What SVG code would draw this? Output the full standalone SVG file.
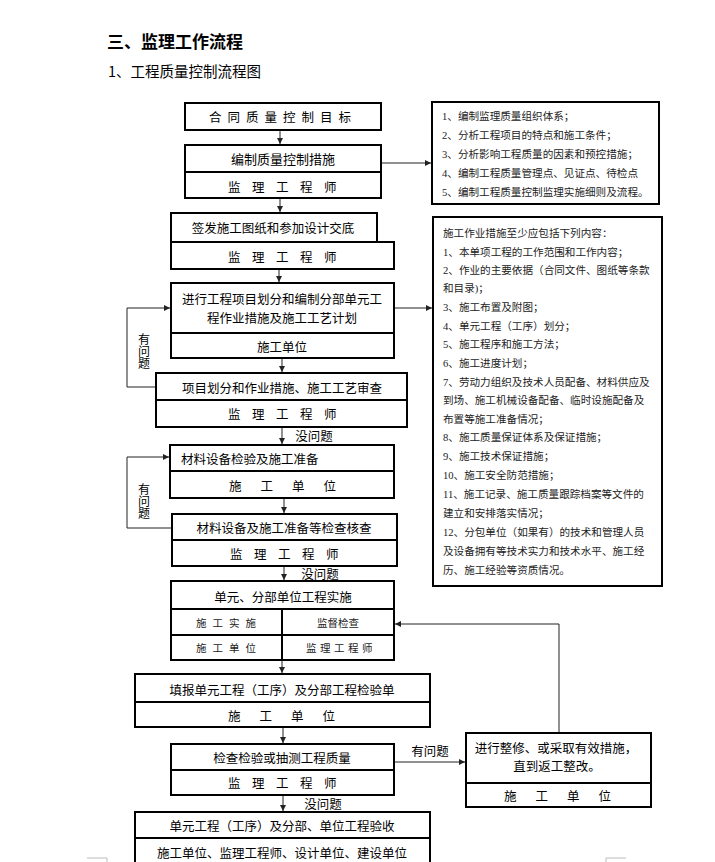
<svg xmlns="http://www.w3.org/2000/svg" width="715" height="862" viewBox="0 0 715 862">
<style>
.bg{fill:#fff}
.box{fill:#fff;stroke:#000;stroke-width:2}
.div{stroke:#000;stroke-width:2;fill:none}
.con{stroke:#222;stroke-width:1;fill:none}
.t{font-family:"Noto Sans CJK SC","Liberation Sans",sans-serif;font-size:12.5px;fill:#000;text-anchor:middle;dominant-baseline:central}
.tv{font-family:"Noto Sans CJK SC","Liberation Sans",sans-serif;font-size:12px;fill:#000;writing-mode:vertical-rl;text-anchor:start;dominant-baseline:central}
.ts{font-family:"Liberation Serif","Noto Sans CJK SC",serif;font-size:10.5px;fill:#222;text-anchor:middle;dominant-baseline:central}
.tl{font-family:"Liberation Serif","Noto Sans CJK SC",serif;font-size:10.6px;fill:#222;dominant-baseline:central}
.h1{font-family:"Noto Sans CJK SC","Liberation Sans",sans-serif;font-size:17px;font-weight:bold;fill:#000}
.h2{font-family:"Noto Sans CJK SC","Liberation Sans",sans-serif;font-size:14.5px;fill:#000}
.mark{stroke:#bbb;stroke-width:1;fill:none}
</style>
<defs>
<marker id="ah" markerWidth="7" markerHeight="6" refX="6" refY="3" orient="auto" markerUnits="userSpaceOnUse">
<path d="M0,0 L6,3 L0,6 z" fill="#222"/>
</marker>
</defs>
<rect class="bg" x="0" y="0" width="715" height="862"/>
<text class="h1" x="107" y="48">三、监理工作流程</text>
<text class="h2" x="108" y="77">1、工程质量控制流程图</text>

<g id="connectors">
<line class="con" x1="280" y1="131" x2="280" y2="144" marker-end="url(#ah)"/>
<line class="con" x1="280" y1="199" x2="280" y2="212" marker-end="url(#ah)"/>
<line class="con" x1="382" y1="163" x2="431" y2="163" marker-end="url(#ah)"/>
<line class="con" x1="279" y1="270" x2="279" y2="282" marker-end="url(#ah)"/>
<line class="con" x1="395" y1="308" x2="432" y2="308" marker-end="url(#ah)"/>
<line class="con" x1="282" y1="359" x2="282" y2="372" marker-end="url(#ah)"/>
<polyline class="con" points="155,387 127,387 127,308 170,308" marker-end="url(#ah)"/>
<line class="con" x1="282" y1="428" x2="282" y2="444" marker-end="url(#ah)"/>
<line class="con" x1="284" y1="499" x2="284" y2="513" marker-end="url(#ah)"/>
<polyline class="con" points="171,528 127,528 127,457 169,457" marker-end="url(#ah)"/>
<line class="con" x1="284" y1="567" x2="284" y2="580" marker-end="url(#ah)"/>
<polyline class="con" points="559,732 559,624 395,624" marker-end="url(#ah)"/>
<line class="con" x1="282" y1="661" x2="282" y2="673" marker-end="url(#ah)"/>
<line class="con" x1="283" y1="728" x2="283" y2="743" marker-end="url(#ah)"/>
<line class="con" x1="395" y1="762" x2="465" y2="762" marker-end="url(#ah)"/>
<line class="con" x1="283" y1="796" x2="283" y2="811" marker-end="url(#ah)"/>
<text class="t" x="314" y="435">没问题</text>
<text class="t" x="320" y="573">没问题</text>
<text class="t" x="323" y="803">没问题</text>
<text class="t" x="430" y="750">有问题</text>
<text class="tv" x="144" y="333">有问题</text>
<text class="tv" x="144" y="483">有问题</text>
</g>

<g id="n1">
<rect class="box" x="185" y="103" width="196" height="27"/>
<text class="t" x="283" y="116" style="letter-spacing:6px">合同质量控制目标</text>
</g>
<g id="n2">
<rect class="box" x="185" y="145" width="196" height="53"/>
<line class="div" x1="185" y1="172" x2="381" y2="172"/>
<text class="t" x="283" y="158" style="font-size:13px">编制质量控制措施</text>
<text class="t" x="288" y="186" style="letter-spacing:11.5px">监理工程师</text>
</g>
<g id="r1">
<rect class="box" x="432" y="102" width="227" height="102"/>
<text class="tl" x="442" y="116">1、编制监理质量组织体系；</text>
<text class="tl" x="442" y="135">2、分析工程项目的特点和施工条件；</text>
<text class="tl" x="442" y="154">3、分析影响工程质量的因素和预控措施；</text>
<text class="tl" x="442" y="173">4、编制工程质量管理点、见证点、待检点</text>
<text class="tl" x="442" y="192">5、编制工程质量控制监理实施细则及流程。</text>
</g>
<g id="n3">
<rect class="box" x="171" y="213" width="206" height="29"/>
<text class="t" x="273" y="227">签发施工图纸和参加设计交底</text>
<rect class="box" x="171" y="242" width="223" height="27"/>
<text class="t" x="288" y="256" style="letter-spacing:11.5px">监理工程师</text>
</g>
<g id="n4">
<rect class="box" x="171" y="283" width="223" height="75"/>
<line class="div" x1="171" y1="333" x2="394" y2="333"/>
<text class="t" x="282" y="298">进行工程项目划分和编制分部单元工</text>
<text class="t" x="282" y="317">程作业措施及施工工艺计划</text>
<text class="t" x="282" y="346">施工单位</text>
</g>
<g id="r2">
<rect class="box" x="433" y="217" width="229" height="369"/>
<text class="tl" x="443" y="233">施工作业措施至少应包括下列内容：</text>
<text class="tl" x="443" y="252">1、本单项工程的工作范围和工作内容；</text>
<text class="tl" x="443" y="270">2、作业的主要依据（合同文件、图纸等条款</text>
<text class="tl" x="443" y="288">和目录)；</text>
<text class="tl" x="443" y="307">3、施工布置及附图；</text>
<text class="tl" x="443" y="326">4、单元工程（工序）划分；</text>
<text class="tl" x="443" y="344">5、施工程序和施工方法；</text>
<text class="tl" x="443" y="363">6、施工进度计划；</text>
<text class="tl" x="443" y="382">7、劳动力组织及技术人员配备、材料供应及</text>
<text class="tl" x="443" y="400">到场、施工机械设备配备、临时设施配备及</text>
<text class="tl" x="443" y="419">布置等施工准备情况；</text>
<text class="tl" x="443" y="437">8、施工质量保证体系及保证措施；</text>
<text class="tl" x="443" y="456">9、施工技术保证措施；</text>
<text class="tl" x="443" y="475">10、施工安全防范措施；</text>
<text class="tl" x="443" y="494">11、施工记录、施工质量跟踪档案等文件的</text>
<text class="tl" x="443" y="513">建立和安排落实情况；</text>
<text class="tl" x="443" y="532">12、分包单位（如果有）的技术和管理人员</text>
<text class="tl" x="443" y="551">及设备拥有等技术实力和技术水平、施工经</text>
<text class="tl" x="443" y="570">历、施工经验等资质情况。</text>
</g>
<g id="n5">
<rect class="box" x="156" y="373" width="251" height="54"/>
<line class="div" x1="156" y1="400" x2="407" y2="400"/>
<text class="t" x="282" y="387">项目划分和作业措施、施工工艺审查</text>
<text class="t" x="288" y="413" style="letter-spacing:11.5px">监理工程师</text>
</g>
<g id="n6">
<rect class="box" x="170" y="445" width="224" height="53"/>
<line class="div" x1="170" y1="471" x2="394" y2="471"/>
<text class="t" x="181" y="458" style="text-anchor:start">材料设备检验及施工准备</text>
<text class="t" x="292" y="485" style="letter-spacing:19px">施工单位</text>
</g>
<g id="n7">
<rect class="box" x="172" y="514" width="225" height="52"/>
<line class="div" x1="172" y1="540" x2="397" y2="540"/>
<text class="t" x="284" y="527">材料设备及施工准备等检查核查</text>
<text class="t" x="290" y="553" style="letter-spacing:11.5px">监理工程师</text>
</g>
<g id="n8">
<rect class="box" x="171" y="581" width="223" height="79"/>
<line class="div" x1="171" y1="609" x2="394" y2="609"/>
<line class="div" x1="171" y1="635" x2="394" y2="635"/>
<line class="div" x1="282" y1="609" x2="282" y2="660"/>
<text class="t" x="283" y="596">单元、分部单位工程实施</text>
<text class="ts" x="229" y="623" style="letter-spacing:6px">施工实施</text>
<text class="ts" x="338" y="623">监督检查</text>
<text class="ts" x="229" y="648" style="letter-spacing:6px">施工单位</text>
<text class="ts" x="341" y="648" style="letter-spacing:3.5px">监理工程师</text>
</g>
<g id="n9">
<rect class="box" x="135" y="674" width="295" height="53"/>
<line class="div" x1="135" y1="702" x2="430" y2="702"/>
<text class="t" x="282" y="689">填报单元工程（工序）及分部工程检验单</text>
<text class="t" x="291" y="715" style="letter-spacing:19px">施工单位</text>
</g>
<g id="n10">
<rect class="box" x="171" y="744" width="223" height="51"/>
<line class="div" x1="171" y1="770" x2="394" y2="770"/>
<text class="t" x="282" y="757">检查检验或抽测工程质量</text>
<text class="t" x="288" y="782" style="letter-spacing:11.5px">监理工程师</text>
</g>
<g id="n11">
<rect class="box" x="466" y="733" width="185" height="74"/>
<line class="div" x1="466" y1="783" x2="651" y2="783"/>
<text class="t" x="556" y="747">进行整修、或采取有效措施，</text>
<text class="t" x="557" y="765">直到返工整改。</text>
<text class="t" x="567" y="795" style="letter-spacing:19px">施工单位</text>
</g>
<g id="n12">
<rect class="box" x="135" y="812" width="295" height="60"/>
<line class="div" x1="135" y1="838" x2="430" y2="838"/>
<text class="t" x="282" y="825">单元工程（工序）及分部、单位工程验收</text>
<text class="t" x="282" y="852">施工单位、监理工程师、设计单位、建设单位</text>
</g>
<polyline class="mark" points="87,858 107,858 107,862"/>
<polyline class="mark" points="626,858 606,858 606,862"/>
</svg>
